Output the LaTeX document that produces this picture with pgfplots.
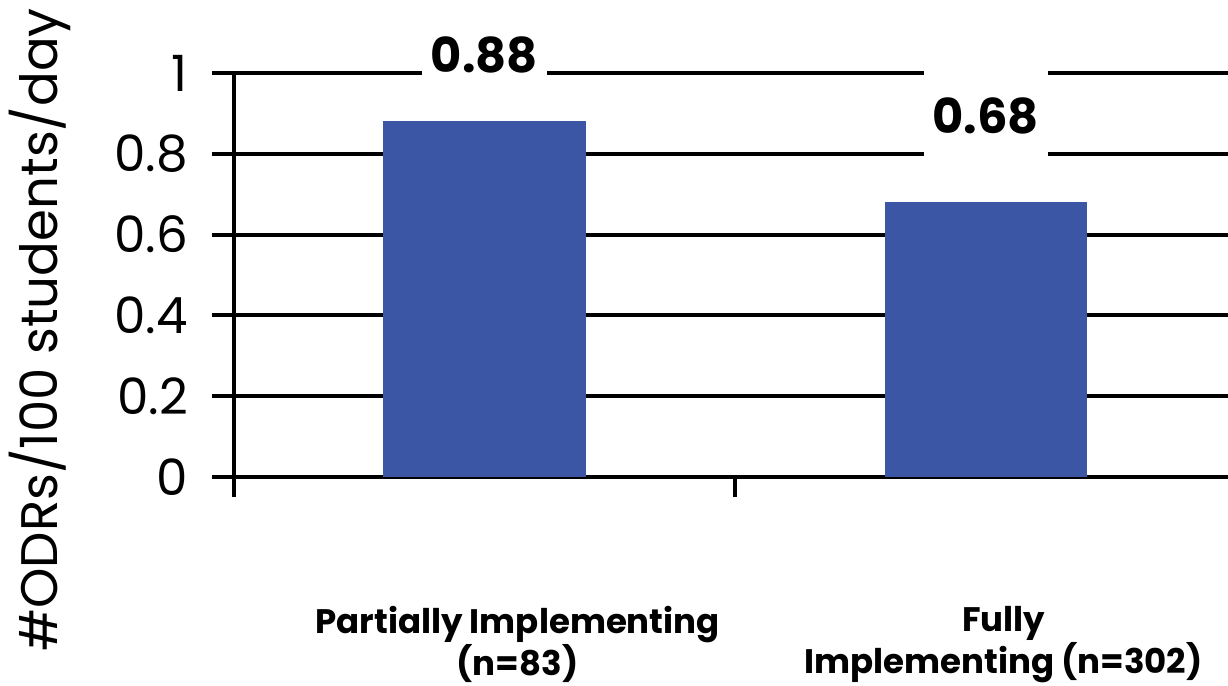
\documentclass[border=0pt]{standalone}
\usepackage{pgfplots}
\pgfplotsset{compat=1.18}
\usepackage{fontspec}
\setmainfont{Poppins}
\definecolor{barblue}{RGB}{58,86,165}

\begin{document}
\begin{tikzpicture}
\begin{axis}[
  at={(0,0)}, anchor=south west,
  scale only axis, width=497pt, height=202pt,
  xmin=-0.5, xmax=1.484, ymin=0, ymax=1,
  axis x line*=bottom, axis y line*=left,
  axis line style={line width=2pt, -},
  ytick={0,0.2,0.4,0.6,0.8,1},
  yticklabels={0,0.2,0.4,0.6,0.8,1},
  yticklabel style={font=\fontsize{25}{29}\selectfont, xshift=-8.5pt},
  ymajorgrids, grid style={line width=2pt, black},
  tick align=outside,
  ytick style={line width=2pt, black},
  major tick length=11pt,
  xtick={0.066,1.036},
  xticklabels={{Partially Implementing\\(n=83)},{Fully\\Implementing (n=302)}},
  xticklabel style={align=center, font=\bfseries\fontsize{17}{21}\selectfont, yshift=-50pt},
  xtick style={draw=none},
  extra x ticks={-0.5,0.5,1.5},
  extra x tick labels={,,},
  extra x tick style={grid=none, xtick style={draw=black, line width=2pt}, major tick length=10pt},
  ylabel={\#ODRs/100 students/day},
  ylabel style={at={(axis description cs:-0.195,0.364)}, anchor=center, font=\fontsize{25.7}{30}\selectfont},
  ybar, bar width=101pt,
  every node near coord/.append style={fill=white, inner sep=0pt, minimum width=62pt, minimum height=50pt,
    anchor=center, font=\bfseries\fontsize{24}{28}\selectfont},
]
\addplot[fill=barblue, draw=none, bar shift=0pt, nodes near coords, point meta=explicit symbolic,
  every node near coord/.append style={yshift=33.5pt}]
  coordinates {(0,0.88) [0.88]};
\addplot[fill=barblue, draw=none, bar shift=0pt, nodes near coords, point meta=explicit symbolic,
  every node near coord/.append style={yshift=43pt}]
  coordinates {(1,0.68) [0.68]};
\end{axis}
\pgfresetboundingbox
\path[use as bounding box] (-117pt,-104.5pt) rectangle (497pt,238.5pt);
\end{tikzpicture}
\end{document}
